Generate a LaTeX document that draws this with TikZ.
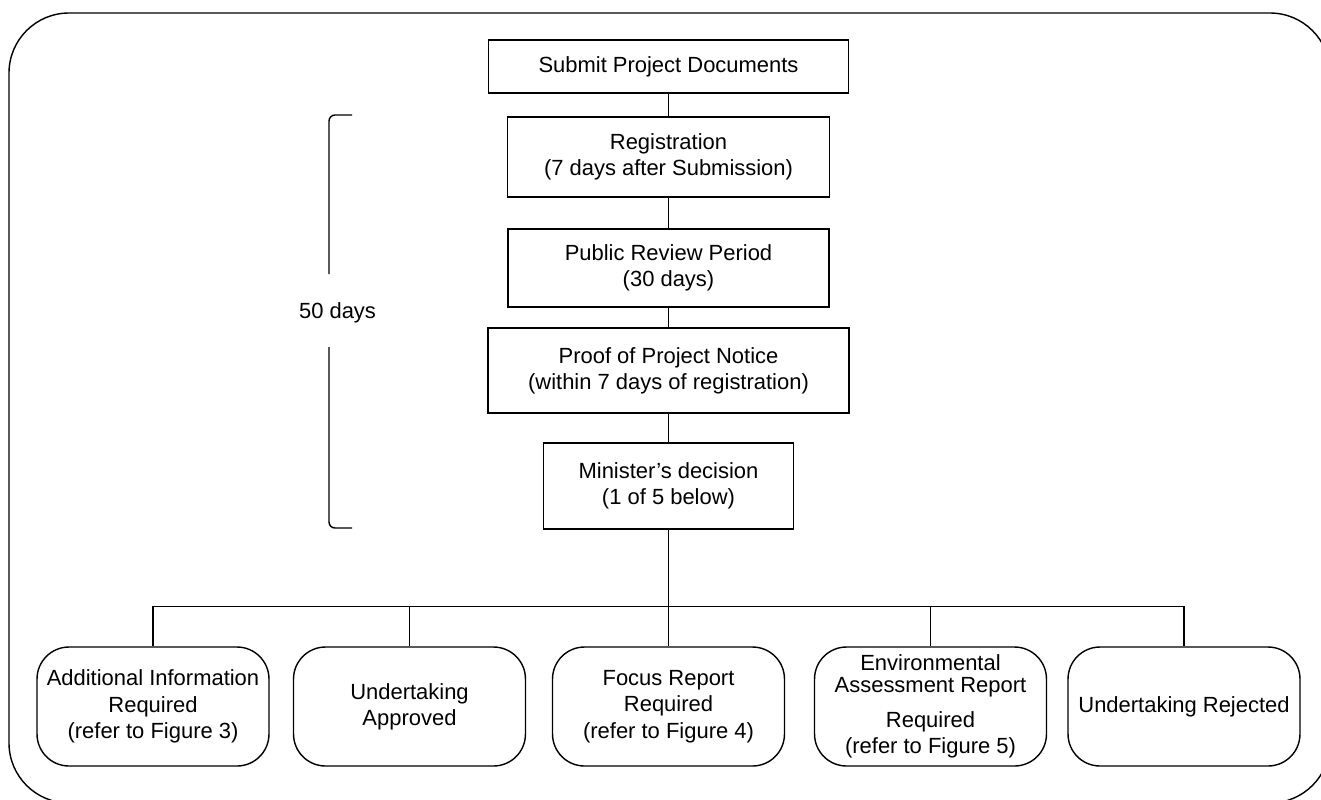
\documentclass[tikz,border=0pt]{standalone}
\usepackage{fontspec}
\setmainfont{Liberation Sans}
\usepackage{tikz}

\tikzset{
  stepbox/.style={draw, line width=0.8pt, align=center, inner sep=0pt},
  resultbox/.style={stepbox, rounded corners=0.64cm, minimum width=4.64cm, minimum height=2.38cm},
}

\begin{document}
\begin{tikzpicture}[x=0.02cm, y=-0.02cm, line width=0.8pt, font=\fontsize{12.5}{15}\selectfont]
\clip (0,0) rectangle (1321,799);
\draw[rounded corners=1.2cm] (9,13) rectangle (1330,803);

\node[stepbox, minimum width=7.2cm, minimum height=1.06cm] (submit) at (668.5,66.5) {Submit Project Documents};
\node[stepbox, minimum width=6.44cm, minimum height=1.6cm] (reg) at (668.5,157) {Registration\\(7 days after Submission)};
\node[stepbox, minimum width=6.42cm, minimum height=1.56cm] (review) at (668.5,268) {Public Review Period\\(30 days)};
\node[stepbox, minimum width=7.22cm, minimum height=1.7cm] (proof) at (668.5,370.5) {Proof of Project Notice\\(within 7 days of registration)};
\node[stepbox, minimum width=5cm, minimum height=1.72cm] (minister) at (668.5,486) {Minister's decision\\(1 of 5 below)};

\draw (submit) -- (reg);
\draw (reg) -- (review);
\draw (review) -- (proof);
\draw (proof) -- (minister);

\coordinate (bractop) at (352,115);
\coordinate (bracbot) at (352,528);
\node (days) at (337.5,313) {50 days};
\draw[rounded corners=0.12cm] (bractop) -- (329,115) -- (329,274);
\draw[rounded corners=0.12cm] (329,347) -- (329,528) -- (bracbot);

\node[resultbox] (addinfo) at (153,706.5) {Additional Information\\Required\\(refer to Figure 3)};
\node[resultbox] (approved) at (409.5,706.5) {Undertaking\\Approved};
\node[resultbox] (focus) at (668.5,706.5) {Focus Report\\Required\\(refer to Figure 4)};
\node[resultbox] (earreport) at (930.5,706.5) {Environmental\\[-2.5pt]Assessment Report\\[5pt]Required\\(refer to Figure 5)};
\node[resultbox] (rejected) at (1184,706.5) {Undertaking Rejected};

\draw (minister) -- (focus);
\draw (addinfo.north) -- ++(0,-40) -| (rejected.north);
\foreach \n in {approved, earreport} \draw (\n.north) -- ++(0,-40);
\end{tikzpicture}
\end{document}
